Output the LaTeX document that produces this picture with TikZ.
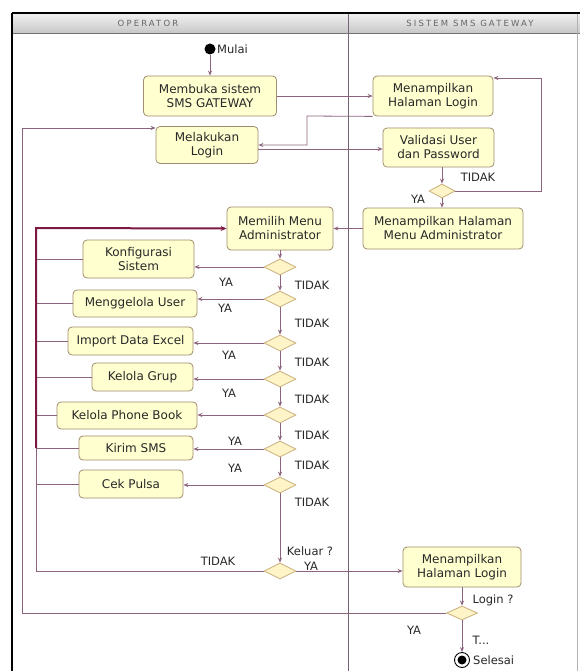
\documentclass[tikz,border=0pt]{standalone}
\usepackage{fontspec}
\setmainfont{DejaVu Sans}
\newfontfamily\hdrfont[LetterSpace=25]{DejaVu Sans}
\usetikzlibrary{shapes.geometric,arrows.meta}
\definecolor{boxfill}{RGB}{255,255,208}
\definecolor{boxdraw}{RGB}{160,140,110}
\definecolor{flow}{RGB}{140,100,125}
\definecolor{thickred}{RGB}{125,25,65}
\definecolor{dfill}{RGB}{255,243,200}
\definecolor{ddraw}{RGB}{200,175,120}
\definecolor{txt}{RGB}{40,40,40}
\definecolor{lane}{RGB}{120,100,120}
\begin{document}
\begin{tikzpicture}[x=1pt,y=-1pt,
  act/.style={draw=boxdraw, fill=boxfill, rounded corners=4pt, align=center, inner sep=0pt,
    font=\fontsize{12}{14}\selectfont, text=txt, line width=0.8pt},
  dec/.style={diamond, draw=ddraw, fill=dfill, inner sep=0pt, minimum width=32pt,
    minimum height=16pt, line width=0.8pt},
  arr/.style={draw=flow, line width=0.8pt, -{Stealth[length=5pt,width=4pt]}},
  ln/.style={draw=flow, line width=0.8pt},
  lbl/.style={font=\fontsize{11.5}{13}\selectfont, text=txt, inner sep=0pt},
  hdr/.style={font=\hdrfont\fontsize{8.5}{10}\selectfont, text=black!60, inner sep=0pt},
]
\fill[white] (0,0) rectangle (580,671);
\useasboundingbox (0,0) rectangle (580,671);

% frame and header
\shade[top color=black!5, bottom color=black!22] (12,13) rectangle (580,33);
\draw[black!55, line width=0.8pt] (12,33) -- (580,33);
\draw[black!30, line width=0.8pt] (577,13) -- (577,671);
\draw[lane, line width=0.8pt] (348,13) -- (348,671);
\draw[black, line width=1.6pt] (12,13) -- (580,13);
\draw[black, line width=1.6pt] (12,13) -- (12,671);
\node[hdr] (h1) at (148,23) {OPERATOR};
\node[hdr] (h2) at (470,23) {SISTEM SMS GATEWAY};

% top part
\node[circle, fill=black, minimum size=11pt, inner sep=0pt] (startn) at (210,49) {};
\node[lbl, anchor=west] (mulai) at (217,49) {Mulai};
\node[act, minimum width=133pt, minimum height=40pt] (membuka) at (210,96) {Membuka sistem\\SMS GATEWAY};
\node[act, minimum width=102pt, minimum height=37pt] (login) at (207,145) {Melakukan\\Login};
\node[act, minimum width=120pt, minimum height=40pt] (tlogin) at (433,96) {Menampilkan\\Halaman Login};
\node[act, minimum width=111pt, minimum height=39pt] (valid) at (438.5,147.5) {Validasi User\\dan Password};
\node[dec, minimum width=26pt, minimum height=14pt] (d0) at (442,191) {};
\node[act, minimum width=160pt, minimum height=41pt] (tmenu) at (443,228.5) {Menampilkan Halaman\\Menu Administrator};
\node[act, minimum width=106pt, minimum height=43pt] (memilih) at (280,228.5) {Memilih Menu\\Administrator};

\coordinate (rloop) at (541,78);
\coordinate (mid) at (307,116);
\draw[arr] (startn.south) -- (startn.south |- membuka.north);
\draw[arr] (membuka.east) -- (tlogin.west);
\draw[arr] (tlogin.south west) -- (mid) -- (mid |- login.east) -- (login.east);
\draw[arr] ([yshift=-4pt]login.east) -- ([yshift=-4pt]login.east -| valid.west);
\draw[arr] (d0 |- valid.south) -- (d0.north);
\draw[arr] (d0.east) -- (d0.east -| rloop) -- (rloop) -- (rloop -| tlogin.east);
\draw[arr] (d0.south) -- (d0.south |- tmenu.north);
\draw[arr] (tmenu.west) -- (memilih.east);
\node[lbl] (t0) at (478,177) {TIDAK};
\node[lbl] (y0) at (418,199) {YA};

% decision column
\node[dec] (d1) at (280,267) {};
\node[dec] (d2) at (280,299) {};
\node[dec] (d3) at (280,343) {};
\node[dec] (d4) at (280,379) {};
\node[dec] (d5) at (280,415) {};
\node[dec] (d6) at (280,449) {};
\node[dec] (d7) at (280,485) {};
\node[dec] (dk) at (280,571) {};

\node[act, minimum width=111pt, minimum height=38pt] (konf) at (138.5,259) {Konfigurasi\\Sistem};
\node[act, minimum width=124pt, minimum height=27pt] (user) at (135,303.5) {Menggelola User};
\node[act, minimum width=125pt, minimum height=28pt] (imp) at (130.5,341) {Import Data Excel};
\node[act, minimum width=101pt, minimum height=28pt] (grup) at (142.5,377) {Kelola Grup};
\node[act, minimum width=140pt, minimum height=27pt] (phone) at (127,415.5) {Kelola Phone Book};
\node[act, minimum width=114pt, minimum height=24pt] (kirim) at (136,448) {Kirim SMS};
\node[act, minimum width=104pt, minimum height=28pt] (cek) at (131,484) {Cek Pulsa};

\draw[arr] (memilih.south) -- (d1.north);
\draw[arr] (d1.south) -- (d2.north);
\draw[arr] (d2.south) -- (d3.north);
\draw[arr] (d3.south) -- (d4.north);
\draw[arr] (d4.south) -- (d5.north);
\draw[arr] (d5.south) -- (d6.north);
\draw[arr] (d6.south) -- (d7.north);
\draw[arr] (d7.south) -- (dk.north);

\draw[arr] (d1.west) -- (d1.west -| konf.east);
\draw[arr] (d2.west) -- (d2.west -| user.east);
\draw[arr] (d3.west) -- (d3.west -| imp.east);
\draw[arr] (d4.west) -- (d4.west -| grup.east);
\draw[arr] (d5.west) -- (d5.west -| phone.east);
\draw[arr] (d6.west) -- (d6.west -| kirim.east);
\draw[arr] (d7.west) -- (d7.west -| cek.east);

\coordinate (rail) at (36,228);
\draw[ln] (konf.west) -- (konf.west -| rail);
\draw[ln] (user.west) -- (user.west -| rail);
\draw[ln] (imp.west) -- (imp.west -| rail);
\draw[ln] (grup.west) -- (grup.west -| rail);
\draw[ln] (phone.west) -- (phone.west -| rail);
\draw[ln] (kirim.west) -- (kirim.west -| rail);
\draw[ln] (cek.west) -- (cek.west -| rail);
\draw[ln] (dk.west) -- (dk.west -| rail) -- (rail |- kirim.west);
\draw[draw=thickred, line width=2pt, -{Stealth[length=6pt,width=5pt]}] (rail |- kirim.west) -- (rail) -- (memilih.west);

\node[lbl] (ya1) at (226,282) {YA};
\node[lbl] (ya2) at (225,308) {YA};
\node[lbl] (ya3) at (229,355) {YA};
\node[lbl] (ya4) at (229,393) {YA};
\node[lbl] (ya5) at (235,441) {YA};
\node[lbl] (ya6) at (235,468) {YA};
\node[lbl] (td1) at (312,285) {TIDAK};
\node[lbl] (td2) at (312,323) {TIDAK};
\node[lbl] (td3) at (312,362) {TIDAK};
\node[lbl] (td4) at (312,399) {TIDAK};
\node[lbl] (td5) at (312,435) {TIDAK};
\node[lbl] (td6) at (312,465) {TIDAK};
\node[lbl] (td7) at (312,502) {TIDAK};

% bottom part
\node[lbl] (keluar) at (310,551) {Keluar ?};
\node[lbl] (yak) at (311,566) {YA};
\node[lbl] (tdk) at (218,561) {TIDAK};
\node[act, minimum width=118pt, minimum height=40pt] (tlogin2) at (462,567) {Menampilkan\\Halaman Login};
\node[dec, minimum width=31pt, minimum height=14pt] (dlogin) at (462,613) {};
\node[circle, draw=black, line width=0.9pt, fill=white, minimum size=15pt, inner sep=0pt] (endn) at (462,660) {};
\node[circle, fill=black, minimum size=9pt, inner sep=0pt] (endc) at (462,660) {};
\node[lbl, anchor=west] (selesai) at (473,660) {Selesai};
\node[lbl] (loginq) at (493,600) {Login ?};
\node[lbl] (yal) at (414,630) {YA};
\node[lbl] (tl) at (481,640) {T...};

\coordinate (outer) at (22,128);
\draw[arr] (dk.east) -- (dk.east -| tlogin2.west);
\draw[arr] (tlogin2.south -| dlogin) -- (dlogin.north);
\draw[arr] (dlogin.south) -- (endn.north);
\draw[arr] (dlogin.west) -- (dlogin.west -| outer) -- (outer) -- (outer -| login.west);
\end{tikzpicture}
\end{document}
